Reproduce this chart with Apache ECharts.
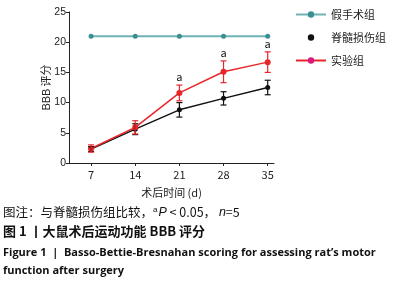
<!DOCTYPE html>
<html>
<head>
<meta charset="utf-8">
<script src="https://cdn.jsdelivr.net/npm/echarts@6/dist/echarts.min.js"></script>
<style>
  html, body { margin: 0; padding: 0; background: #fff; }
  #chart { width: 405px; height: 284px; }
</style>
</head>
<body>
<div id="chart"></div>
<script>
// days after surgery
const days = [7, 14, 21, 28, 35];
const yTicks = [0, 5, 10, 15, 20, 25];

const shamMean = [21, 21, 21, 21, 21];
const sciMean = [2.3, 5.6, 8.8, 10.7, 12.5];
const sciErr = [0.4, 0.9, 1.2, 1.1, 1.2];
const expMean = [2.4, 5.9, 11.6, 15.1, 16.7];
const expErr = [0.6, 1.1, 1.3, 1.8, 1.7];
// significance marks vs SCI group
const sigMark = ["", "", "a", "a", "a"];

const FONT = "'Noto Sans CJK SC', 'DejaVu Sans', sans-serif";

function errData(mean, err) {
  return days.map((d, i) => [d, mean[i] - err[i], mean[i] + err[i], sigMark[i]]);
}

function errorBars(color, withMark) {
  return function (params, api) {
    const x = api.value(0);
    const lo = api.coord([x, api.value(1)]);
    const hi = api.coord([x, api.value(2)]);
    const w = 3;
    const style = { stroke: color, lineWidth: 1.2 };
    const children = [
      { type: "line", shape: { x1: lo[0], y1: lo[1], x2: hi[0], y2: hi[1] }, style },
      { type: "line", shape: { x1: lo[0] - w, y1: lo[1], x2: lo[0] + w, y2: lo[1] }, style },
      { type: "line", shape: { x1: hi[0] - w, y1: hi[1], x2: hi[0] + w, y2: hi[1] }, style },
    ];
    const mark = api.value(3);
    if (withMark && mark) {
      children.push({
        type: "text",
        style: {
          text: String(mark), x: hi[0], y: hi[1] - 3,
          textAlign: "center", textVerticalAlign: "bottom",
          fill: "#111", font: "11px " + FONT,
        },
      });
    }
    return { type: "group", children };
  };
}

const chart = echarts.init(document.getElementById("chart"));
chart.setOption({
  animation: false,
  grid: { left: 69, right: 131, top: 12, bottom: 121, containLabel: false },
  xAxis: {
    type: "value",
    min: 3.5,
    max: 36,
    name: "术后时间 (d)",
    nameLocation: "middle",
    nameGap: 24,
    nameMoveOverlap: false,
    nameTextStyle: { color: "#222", fontSize: 11, fontFamily: FONT },
    axisLine: { lineStyle: { color: "#222", width: 1 } },
    axisTick: { show: true, length: 3, customValues: days, lineStyle: { color: "#222" } },
    axisLabel: { customValues: days, color: "#222", fontSize: 11, fontFamily: FONT, margin: 6 },
    splitLine: { show: false },
  },
  yAxis: {
    type: "value",
    min: 0,
    max: 25,
    interval: 5,
    name: "BBB 评分",
    nameLocation: "middle",
    nameGap: 18,
    nameMoveOverlap: false,
    nameRotate: 90,
    nameTextStyle: { color: "#222", fontSize: 11, fontFamily: FONT },
    axisLine: { show: true, lineStyle: { color: "#222", width: 1 } },
    axisTick: { show: true, length: 3, lineStyle: { color: "#222" } },
    axisLabel: { color: "#222", fontSize: 10.5, fontFamily: "'Liberation Sans', sans-serif", margin: 3 },
    splitLine: { show: false },
  },
  legend: {
    orient: "vertical",
    left: 290,
    top: 4,
    itemWidth: 30,
    itemHeight: 8,
    itemGap: 12,
    textStyle: { color: "#222", fontSize: 11, fontFamily: FONT },
    data: [
      { name: "假手术组" },
      { name: "脊髓损伤组", lineStyle: { opacity: 0 } },
      { name: "实验组", itemStyle: { color: "#d81b7a" } },
    ],
  },
  series: [
    {
      name: "假手术组",
      type: "line",
      data: days.map((d, i) => [d, shamMean[i]]),
      symbol: "circle",
      symbolSize: 5,
      itemStyle: { color: "#3a8f93" },
      lineStyle: { color: "#6fb2b5", width: 2 },
    },
    {
      name: "脊髓损伤组",
      type: "line",
      data: days.map((d, i) => [d, sciMean[i]]),
      symbol: "circle",
      symbolSize: 5,
      itemStyle: { color: "#111" },
      lineStyle: { color: "#111", width: 1.5 },
      z: 3,
    },
    {
      name: "实验组",
      type: "line",
      data: days.map((d, i) => [d, expMean[i]]),
      symbol: "circle",
      symbolSize: 6,
      itemStyle: { color: "#e8262a" },
      lineStyle: { color: "#e8262a", width: 1.5 },
      z: 4,
    },
    {
      type: "custom",
      renderItem: errorBars("#111", false),
      data: errData(sciMean, sciErr),
      encode: { x: 0, y: [1, 2] },
      z: 5,
      silent: true,
    },
    {
      type: "custom",
      renderItem: errorBars("#e8262a", true),
      data: errData(expMean, expErr),
      encode: { x: 0, y: [1, 2] },
      z: 6,
      silent: true,
    },
  ],
  graphic: [
    {
      type: "text", left: 3, top: 206,
      style: {
        text: "图注：与脊髓损伤组比较，{sup|a}{it|P} < 0.05， {it|n}=5",
        fill: "#111", font: "12.5px " + FONT,
        rich: {
          sup: { fontSize: 8, verticalAlign: "top", fill: "#111", padding: [0, 1, 5, 0] },
          it: { fontStyle: "italic", fontSize: 12.5, fill: "#111" },
        },
      },
    },
    {
      type: "text", left: 3, top: 225,
      style: { text: "图 1 丨大鼠术后运动功能 BBB 评分", fill: "#111", font: "bold 13px " + FONT },
    },
    {
      type: "text", left: 3, top: 247,
      style: { text: "Figure 1  |  Basso-Bettie-Bresnahan scoring for assessing rat’s motor", fill: "#111", font: "bold 11px 'Open Sans', sans-serif" },
    },
    {
      type: "text", left: 3, top: 265,
      style: { text: "function after surgery", fill: "#111", font: "bold 11px 'Open Sans', sans-serif" },
    },
  ],
});
</script>
</body>
</html>
